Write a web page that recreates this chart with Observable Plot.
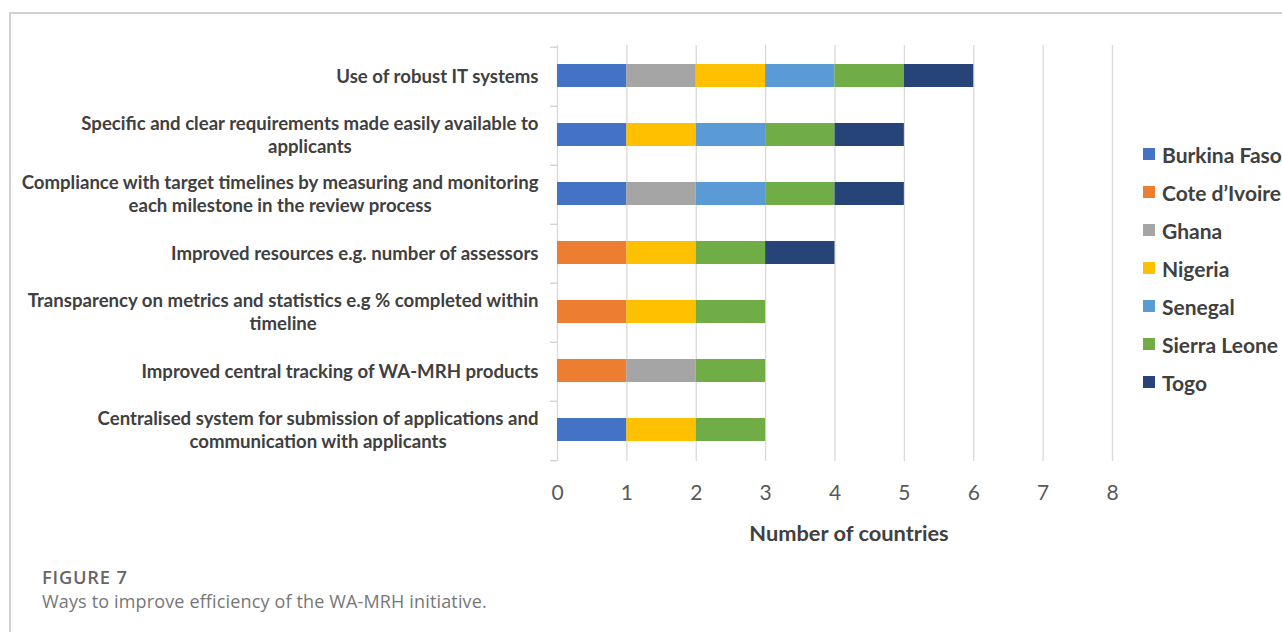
<!DOCTYPE html>
<html>
<head>
<meta charset="utf-8">
<script src="https://cdn.jsdelivr.net/npm/d3@7"></script>
<script src="https://cdn.jsdelivr.net/npm/@observablehq/plot@0.6"></script>
<style>
  html, body { margin: 0; padding: 0; background: #fff; }
  body { width: 1282px; height: 632px; position: relative; overflow: hidden; font-family: Lato, sans-serif; }
  #frame { position: absolute; left: 9px; top: 12px; width: 1300px; height: 640px; border-top: 2px solid #d0d0d0; border-left: 2px solid #d0d0d0; }
  #chart { position: absolute; left: 0; top: -2px; }
  #legend { position: absolute; left: 1143px; top: 135px; }
  .item { height: 38px; display: flex; align-items: center; font-weight: 700; font-size: 21px; color: #404040; white-space: nowrap; }
  .sw { width: 12px; height: 12px; margin-right: 7px; }
  #caption { position: absolute; left: 42px; top: 566px; font-family: "Open Sans", sans-serif; }
  #fig { font-size: 18.3px; line-height: 22px; font-weight: 600; color: #666; letter-spacing: 0.8px; }
  #sub { font-size: 18px; line-height: 26px; color: #777; letter-spacing: 0.15px; }
</style>
</head>
<body>
<div id="frame"></div>
<div id="chart"></div>
<div id="legend"></div>
<div id="caption"><div id="fig">FIGURE 7</div><div id="sub">Ways to improve efficiency of the WA-MRH initiative.</div></div>
<script>
const categories = [
  "Use of robust IT systems",
  "Specific and clear requirements made easily available to\napplicants",
  "Compliance with target timelines by measuring and monitoring\neach milestone in the review process",
  "Improved resources e.g. number of assessors",
  "Transparency on metrics and statistics e.g % completed within\ntimeline",
  "Improved central tracking of WA-MRH products",
  "Centralised system for submission of applications and\ncommunication with applicants"
];
const countries = ["Burkina Faso", "Cote d\u2019Ivoire", "Ghana", "Nigeria", "Senegal", "Sierra Leone", "Togo"];
const colors = ["#4472C4", "#ED7D31", "#A5A5A5", "#FFC000", "#5B9BD5", "#70AD47", "#264478"];
const burkinaFaso = [1, 1, 1, 0, 0, 0, 1];
const coteDIvoire = [0, 0, 0, 1, 1, 1, 0];
const ghana       = [1, 0, 1, 0, 0, 1, 0];
const nigeria     = [1, 1, 0, 1, 1, 0, 1];
const senegal     = [1, 1, 1, 0, 0, 0, 0];
const sierraLeone = [1, 1, 1, 1, 1, 1, 1];
const togo        = [1, 1, 1, 1, 0, 0, 0];
const xTicks = [0, 1, 2, 3, 4, 5, 6, 7, 8];
const xLabel = "Number of countries";

const series = [burkinaFaso, coteDIvoire, ghana, nigeria, senegal, sierraLeone, togo];
const data = [];
categories.forEach((c, i) => countries.forEach((k, j) => {
  if (series[j][i]) data.push({category: c, country: k, value: series[j][i]});
}));

const W = 1282, H = 562, mt = 47, mb = 99, ml = 557, mr = 170;
const bw = (H - mt - mb) / categories.length;

const chart = Plot.plot({
  width: W, height: H,
  marginTop: mt, marginBottom: mb, marginLeft: ml, marginRight: mr,
  style: {fontFamily: "Lato, sans-serif", color: "#404040", background: "transparent"},
  x: {domain: [0, 8], ticks: xTicks},
  y: {domain: categories, padding: 0},
  color: {domain: countries, range: colors},
  marks: [
    Plot.gridX(xTicks, {stroke: "#d9d9d9", strokeOpacity: 1, strokeWidth: 1.3}),
    Plot.ruleY(categories, {y: d => d, x1: -0.1, x2: 0, dy: -bw / 2, stroke: "#d0d0d0", strokeWidth: 1.3}),
    Plot.ruleY(categories.slice(-1), {y: d => d, x1: -0.1, x2: 0, dy: bw / 2, stroke: "#d0d0d0", strokeWidth: 1.3}),
    Plot.barX(data, Plot.stackX({
      y: "category", x: "value", fill: "country", order: countries,
      insetTop: 17, insetBottom: 19
    })),
    Plot.axisY({tickSize: 0, tickPadding: 19, dy: -1.5, fontSize: 18.6, fontWeight: 700, fill: "#404040", label: null, lineHeight: 1.237}),
    Plot.axisX(xTicks, {tickSize: 0, tickPadding: 24, fontSize: 21, fill: "#595959", label: null}),
    Plot.text([xLabel], {frameAnchor: "bottom", dy: 79, dx: 14, fontSize: 21.8, fontWeight: 700, fill: "#404040"})
  ]
});
document.getElementById("chart").appendChild(chart);

// center multi-line category labels (right-aligned block, centered lines)
d3.select(chart).selectAll('g[aria-label="y-axis tick label"] text').each(function() {
  const b1 = this.getBBox();
  const right = b1.x + b1.width;
  this.setAttribute("text-anchor", "middle");
  d3.select(this).selectAll("tspan").attr("text-anchor", "middle");
  const b2 = this.getBBox();
  const delta = right - (b2.x + b2.width);
  this.setAttribute("transform", (this.getAttribute("transform") || "") + ` translate(${delta},0)`);
});

const legend = d3.select("#legend");
countries.forEach((c, i) => {
  const item = legend.append("div").attr("class", "item");
  item.append("div").attr("class", "sw").style("background", colors[i]);
  item.append("span").text(c);
});
</script>
</body>
</html>
